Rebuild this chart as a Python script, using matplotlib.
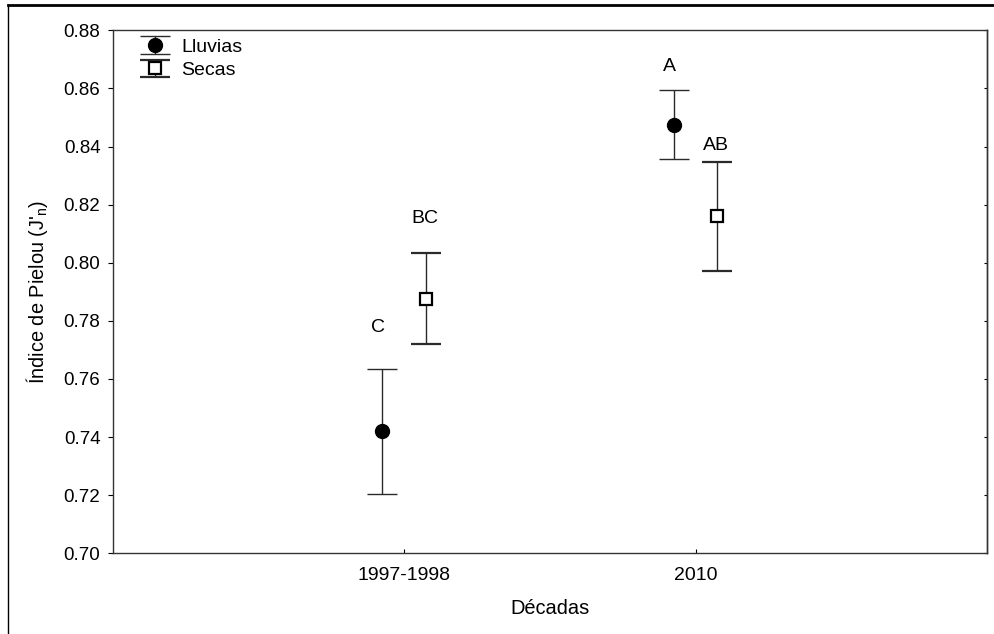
import matplotlib
matplotlib.use("Agg")
import matplotlib.pyplot as plt
from matplotlib.lines import Line2D
from matplotlib.legend_handler import HandlerErrorbar
import numpy as np

plt.rcParams['font.family'] = ['Liberation Sans', 'DejaVu Sans']
plt.rcParams['mathtext.fontset'] = 'custom'
plt.rcParams['mathtext.rm'] = 'Liberation Sans'

decades = ["1997-1998", "2010"]
lluvias_mean = [0.7421, 0.8475]
lluvias_low = [0.7203, 0.8356]
lluvias_high = [0.7633, 0.8595]
secas_mean = [0.7875, 0.8161]
secas_low = [0.7720, 0.7973]
secas_high = [0.8035, 0.8348]
letters_lluvias = ["C", "A"]
letters_secas = ["BC", "AB"]
letters_lluvias_y = [0.7778, 0.8677]
letters_secas_y = [0.8151, 0.8402]
yticks = [0.70, 0.72, 0.74, 0.76, 0.78, 0.80, 0.82, 0.84, 0.86, 0.88]

fig = plt.figure(figsize=(9.95, 6.34), dpi=100)
ax = fig.add_axes([112.7 / 995, 1 - 553.3 / 634, (987 - 112.7) / 995, (553.3 - 30.3) / 634])

x = np.arange(1, len(decades) + 1)
off = 0.075
lm = np.array(lluvias_mean)
sm = np.array(secas_mean)
l_err = [lm - np.array(lluvias_low), np.array(lluvias_high) - lm]
s_err = [sm - np.array(secas_low), np.array(secas_high) - sm]

ecol = '#2a2a2a'
h1 = ax.errorbar(x - off, lm, yerr=l_err, fmt='o', color='black', ecolor=ecol,
                 elinewidth=1, capsize=10.8, capthick=1, markersize=10, label='Lluvias', zorder=3)
h2 = ax.errorbar(x + off, sm, yerr=s_err, fmt='s', mfc='white', mec='black', mew=1.6,
                 ecolor=ecol, elinewidth=1, capsize=10.8, capthick=1, markersize=8.5,
                 label='Secas', zorder=3)

for xi, lab, ly in zip(x - off, letters_lluvias, letters_lluvias_y):
    ax.text(xi - 0.015, ly, lab, ha='center', va='center', fontsize=14)
for xi, lab, ly in zip(x + off, letters_secas, letters_secas_y):
    ax.text(xi - 0.005, ly, lab, ha='center', va='center', fontsize=14)

ax.set_xlim(0, 3)
ax.set_ylim(0.70, 0.88)
ax.set_xticks(x)
ax.set_xticklabels(decades, fontsize=14)
ax.set_yticks(yticks)
ax.set_yticklabels([f"{v:.2f}" for v in yticks], fontsize=13.5)
ax.tick_params(axis='x', direction='in', length=3, width=0.8, pad=10, top=False)
ax.tick_params(axis='y', direction='out', length=3.3, width=0.8, pad=5.5, right=False)

sec = ax.secondary_yaxis('right')
sec.set_yticks(yticks)
sec.tick_params(direction='in', length=2.5, width=0.8, labelright=False)
sec.spines['right'].set_linewidth(1.0)
sec.spines['right'].set_color('#333333')

for s in ax.spines.values():
    s.set_linewidth(1.0)
    s.set_color('#333333')

ax.set_xlabel("Décadas", fontsize=14.4)
ax.set_ylabel(r"Índice de Pielou (J'$_\mathregular{n}$)", fontsize=14.4)
ax.xaxis.set_label_coords(0.5, -0.1046)
ax.yaxis.set_label_coords(-0.0866, 0.5)
ax.xaxis.label.set_va('center')
ax.yaxis.label.set_va('center')

leg = ax.legend(handles=[h1, h2], loc='upper left', bbox_to_anchor=(0.012, 1.015),
                frameon=False, fontsize=14, labelspacing=0.3, handlelength=1.7,
                handletextpad=0.5, borderaxespad=0.5, borderpad=0.3,
                handler_map={type(h1): HandlerErrorbar(xerr_size=0.45)})

# outer frame lines
fig.add_artist(Line2D([8 / 995, 8 / 995], [0.0, 1 - 5 / 634],
                      transform=fig.transFigure, color='black', lw=1.0))
fig.add_artist(Line2D([8 / 995, 1.0], [1 - 5 / 634, 1 - 5 / 634],
                      transform=fig.transFigure, color='black', lw=2.0))

fig.savefig("out.png", dpi=100)
